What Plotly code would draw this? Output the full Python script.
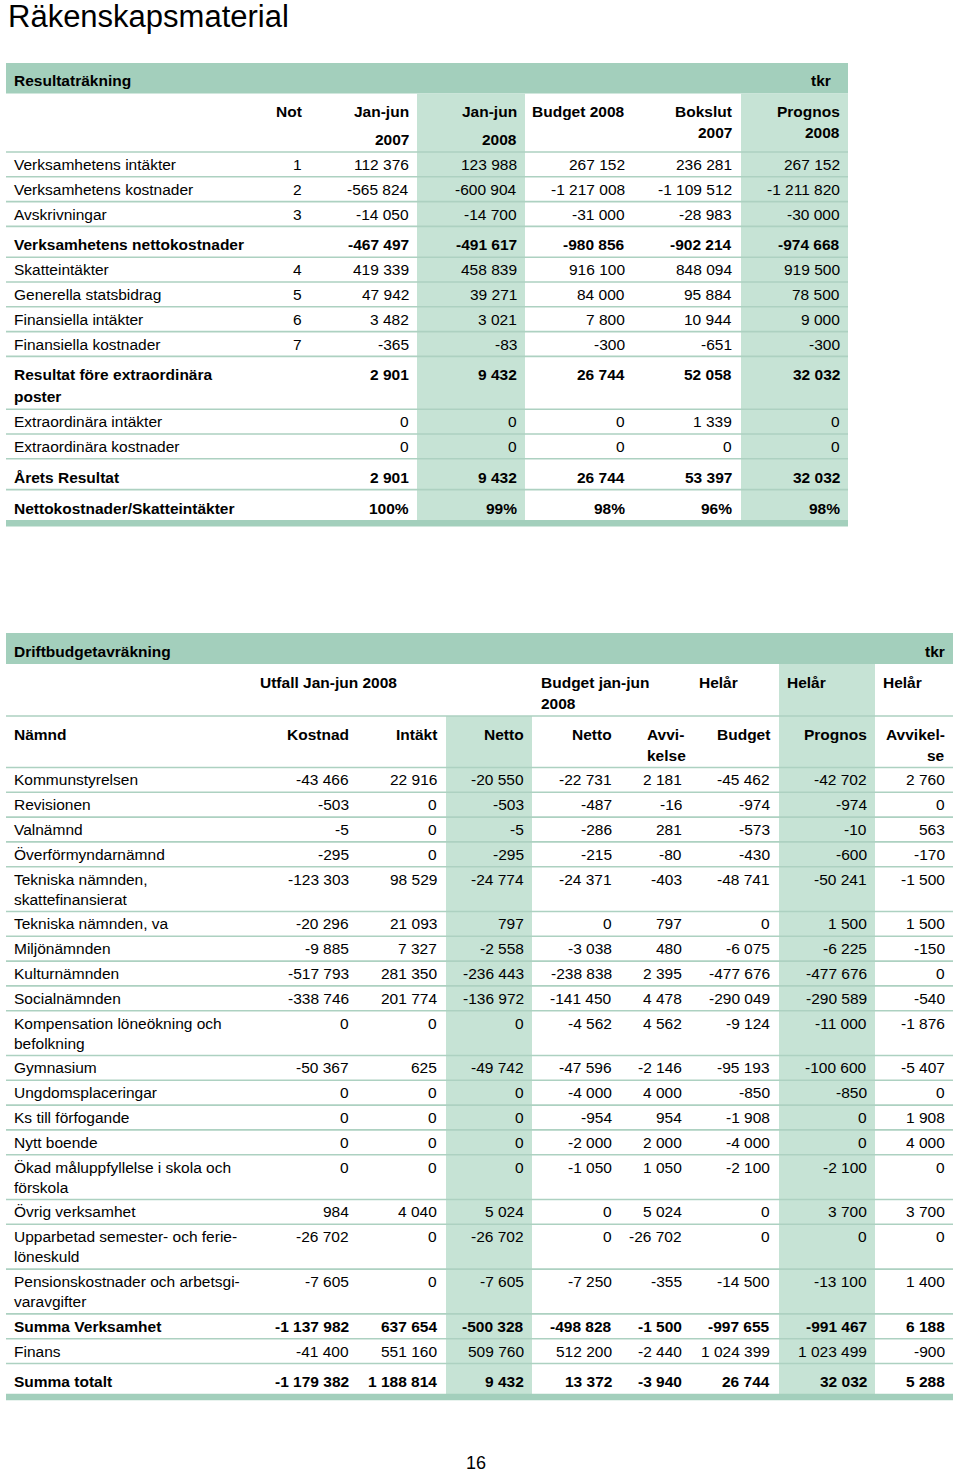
import plotly.graph_objects as go

# ---------------- Resultaträkning ----------------
rr_labels = ["Verksamhetens intäkter", "Verksamhetens kostnader", "Avskrivningar",
             "Verksamhetens nettokostnader", "Skatteintäkter", "Generella statsbidrag",
             "Finansiella intäkter", "Finansiella kostnader",
             "Resultat före extraordinära<br>poster", "Extraordinära intäkter",
             "Extraordinära kostnader", "Årets Resultat", "Nettokostnader/Skatteintäkter"]
rr_bold = ["Verksamhetens nettokostnader", "Resultat före extraordinära<br>poster",
           "Årets Resultat", "Nettokostnader/Skatteintäkter"]
rr_not = [1, 2, 3, None, 4, 5, 6, 7, None, None, None, None, None]
rr_janjun_2007 = [112376, -565824, -14050, -467497, 419339, 47942, 3482, -365, 2901, 0, 0, 2901]
rr_janjun_2008 = [123988, -600904, -14700, -491617, 458839, 39271, 3021, -83, 9432, 0, 0, 9432]
rr_budget_2008 = [267152, -1217008, -31000, -980856, 916100, 84000, 7800, -300, 26744, 0, 0, 26744]
rr_bokslut_2007 = [236281, -1109512, -28983, -902214, 848094, 95884, 10944, -651, 52058, 1339, 0, 53397]
rr_prognos_2008 = [267152, -1211820, -30000, -974668, 919500, 78500, 9000, -300, 32032, 0, 0, 32032]
rr_netto_skatt_pct = [100, 99, 98, 96, 98]

# ---------------- Driftbudgetavräkning ----------------
db_labels = ["Kommunstyrelsen", "Revisionen", "Valnämnd", "Överförmyndarnämnd",
             "Tekniska nämnden,<br>skattefinansierat", "Tekniska nämnden, va", "Miljönämnden",
             "Kulturnämnden", "Socialnämnden", "Kompensation löneökning och<br>befolkning",
             "Gymnasium", "Ungdomsplaceringar", "Ks till förfogande", "Nytt boende",
             "Ökad måluppfyllelse i skola och<br>förskola", "Övrig verksamhet",
             "Upparbetad semester- och ferie-<br>löneskuld",
             "Pensionskostnader och arbetsgi-<br>varavgifter",
             "Summa Verksamhet", "Finans", "Summa totalt"]
db_bold = ["Summa Verksamhet", "Summa totalt"]
db_kostnad = [-43466, -503, -5, -295, -123303, -20296, -9885, -517793, -338746, 0,
              -50367, 0, 0, 0, 0, 984, -26702, -7605, -1137982, -41400, -1179382]
db_intakt = [22916, 0, 0, 0, 98529, 21093, 7327, 281350, 201774, 0,
             625, 0, 0, 0, 0, 4040, 0, 0, 637654, 551160, 1188814]
db_netto = [-20550, -503, -5, -295, -24774, 797, -2558, -236443, -136972, 0,
            -49742, 0, 0, 0, 0, 5024, -26702, -7605, -500328, 509760, 9432]
db_budget_netto = [-22731, -487, -286, -215, -24371, 0, -3038, -238838, -141450, -4562,
                   -47596, -4000, -954, -2000, -1050, 0, 0, -7250, -498828, 512200, 13372]
db_avvikelse = [2181, -16, 281, -80, -403, 797, 480, 2395, 4478, 4562,
                -2146, 4000, 954, 2000, 1050, 5024, -26702, -355, -1500, -2440, -3940]
db_helar_budget = [-45462, -974, -573, -430, -48741, 0, -6075, -477676, -290049, -9124,
                   -95193, -850, -1908, -4000, -2100, 0, 0, -14500, -997655, 1024399, 26744]
db_helar_prognos = [-42702, -974, -10, -600, -50241, 1500, -6225, -477676, -290589, -11000,
                    -100600, -850, 0, 0, -2100, 3700, 0, -13100, -991467, 1023499, 32032]
db_helar_avvikelse = [2760, 0, 563, -170, -1500, 1500, -150, 0, -540, -1876,
                      -5407, 0, 1908, 4000, 0, 3700, 0, 1400, 6188, -900, 5288]

# ---------------- styling ----------------
FONT = "Liberation Sans, Arial, sans-serif"
FS = 15.5
DARK = "#a3cfbc"
SHADE = "#c6e3d5"
RULE = "#add1c1"
ROW_H = 24.8
PAD = 6

shapes = []
annotations = []


def fmt(v):
    return f"{v:,}".replace(",", " ")


def txt(x, y, s, anchor="right", bold=False, size=FS):
    annotations.append(dict(
        x=x, y=y, xref="x", yref="y", text=f"<b>{s}</b>" if bold else s,
        showarrow=False, xanchor=anchor, yanchor="middle", borderpad=0,
        font=dict(family=FONT, size=size, color="black")))


def rect(x0, x1, y0, y1, color):
    shapes.append(dict(type="rect", xref="x", yref="y", x0=x0, x1=x1, y0=y0, y1=y1,
                       fillcolor=color, line=dict(width=0), layer="below"))


def rule(x0, x1, y):
    shapes.append(dict(type="line", xref="x", yref="y", x0=x0, x1=x1, y0=y, y1=y,
                       line=dict(color=RULE, width=1.6), layer="below"))


def layout_rows(labels, spaced, top, gap):
    centers, bottoms = [], []
    y = top
    for lab in labels:
        pad = PAD if lab in spaced else 0
        n = lab.count("<br>") + 1
        centers.append(y + pad + ROW_H / 2)
        y += pad + ROW_H + (n - 1) * gap
        bottoms.append(y)
    return centers, bottoms


def draw_label(x, y, lab, bold, gap):
    for k, part in enumerate(lab.split("<br>")):
        txt(x, y + k * gap, part, anchor="left", bold=bold)


# title and page number
txt(7, 16, "Räkenskapsmaterial", anchor="left", size=31)
txt(476, 1463, "16", anchor="center", size=18)

# ---------- table 1 ----------
L1, R1 = 6, 848
rect(L1, R1, 63, 93.5, DARK)
txt(13, 80, "Resultaträkning", anchor="left", bold=True)
txt(832, 80, "tkr", bold=True)

c1, b1 = layout_rows(rr_labels, rr_bold, 152, 22)
end1 = b1[-1]
rect(417, 525, 93.5, end1, SHADE)
rect(741, R1, 93.5, end1, SHADE)
rule(L1, R1, 152)
for yb in b1[:-1]:
    rule(L1, R1, yb)
rect(L1, R1, end1 - 0.5, end1 + 6, DARK)

cols1 = [303, 410, 518, 626, 733, 841]
txt(cols1[0], 111, "Not", bold=True)
txt(cols1[1], 111, "Jan-jun", bold=True)
txt(cols1[1], 139, "2007", bold=True)
txt(cols1[2], 111, "Jan-jun", bold=True)
txt(cols1[2], 139, "2008", bold=True)
txt(cols1[3], 111, "Budget 2008", bold=True)
txt(cols1[4], 111, "Bokslut", bold=True)
txt(cols1[4], 132, "2007", bold=True)
txt(cols1[5], 111, "Prognos", bold=True)
txt(cols1[5], 132, "2008", bold=True)

series1 = [rr_janjun_2007, rr_janjun_2008, rr_budget_2008, rr_bokslut_2007, rr_prognos_2008]
for i, lab in enumerate(rr_labels):
    bold = lab in rr_bold
    draw_label(13, c1[i], lab, bold, 22)
    if rr_not[i] is not None:
        txt(cols1[0], c1[i], str(rr_not[i]))
    for j, s in enumerate(series1):
        if i < len(s):
            val = fmt(s[i])
        else:
            val = f"{rr_netto_skatt_pct[j]}%"
        txt(cols1[j + 1], c1[i], val, bold=bold)

# ---------- table 2 ----------
L2, R2 = 6, 953
rect(L2, R2, 633, 664, DARK)
txt(13, 651, "Driftbudgetavräkning", anchor="left", bold=True)
txt(946, 651, "tkr", bold=True)

c2, b2 = layout_rows(db_labels, ["Summa totalt"], 767.5, 20)
end2 = b2[-1]
rect(446, 532, 716, end2, SHADE)
rect(779, 875, 664, end2, SHADE)
rule(L2, R2, 716)
rule(L2, R2, 767.5)
for yb in b2[:-1]:
    rule(L2, R2, yb)
rect(L2, R2, end2 - 0.5, end2 + 6, DARK)

txt(259, 682, "Utfall Jan-jun 2008", anchor="left", bold=True)
txt(540, 682, "Budget jan-jun", anchor="left", bold=True)
txt(540, 703, "2008", anchor="left", bold=True)
for hx in [698, 786, 882]:
    txt(hx, 682, "Helår", anchor="left", bold=True)

cols2 = [350, 438, 525, 613, 683, 771, 868, 946]
txt(13, 734, "Nämnd", anchor="left", bold=True)
txt(cols2[0], 734, "Kostnad", bold=True)
txt(cols2[1], 734, "Intäkt", bold=True)
txt(cols2[2], 734, "Netto", bold=True)
txt(cols2[3], 734, "Netto", bold=True)
txt(646, 734, "Avvi-", anchor="left", bold=True)
txt(646, 755, "kelse", anchor="left", bold=True)
txt(cols2[5], 734, "Budget", bold=True)
txt(cols2[6], 734, "Prognos", bold=True)
txt(cols2[7], 734, "Avvikel-", bold=True)
txt(cols2[7], 755, "se", bold=True)

series2 = [db_kostnad, db_intakt, db_netto, db_budget_netto, db_avvikelse,
           db_helar_budget, db_helar_prognos, db_helar_avvikelse]
for i, lab in enumerate(db_labels):
    bold = lab in db_bold
    draw_label(13, c2[i], lab, bold, 20)
    for j, s in enumerate(series2):
        txt(cols2[j], c2[i], fmt(s[i]), bold=bold)

fig = go.Figure()
fig.update_layout(
    width=960, height=1472,
    margin=dict(l=0, r=0, t=0, b=0),
    paper_bgcolor="white", plot_bgcolor="white",
    showlegend=False,
    xaxis=dict(range=[0, 960], visible=False, fixedrange=True),
    yaxis=dict(range=[1472, 0], visible=False, fixedrange=True),
    shapes=shapes,
    annotations=annotations,
)
# drop the browser's default 8px body margin so the page maps 1:1
fig.write_html("out.html", config={"displayModeBar": False},
               post_script="document.body.style.margin='0';")
